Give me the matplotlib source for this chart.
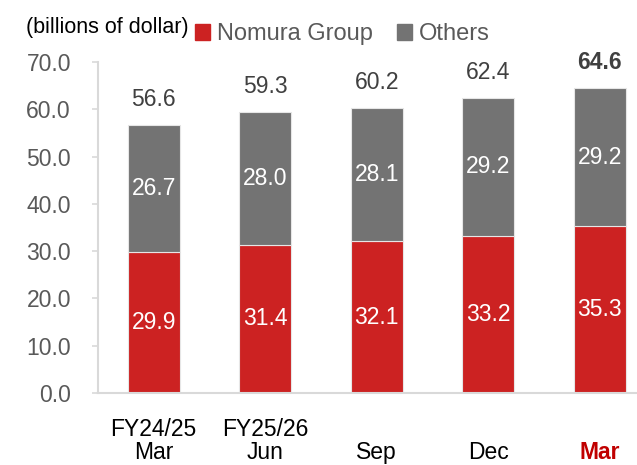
import matplotlib.pyplot as plt
from matplotlib.patches import Patch

plt.rcParams['font.family'] = ['Liberation Sans', 'DejaVu Sans']

# data
periods = ['FY24/25\nMar', 'FY25/26\nJun', '\nSep', '\nDec', '\nMar']
nomura = [29.9, 31.4, 32.1, 33.2, 35.3]
others = [26.7, 28.0, 28.1, 29.2, 29.2]
totals = [56.6, 59.3, 60.2, 62.4, 64.6]
y_ticks = [0, 10, 20, 30, 40, 50, 60, 70]

red = '#CC2222'
gray = '#737373'
axis_gray = '#D9D9D9'
text_gray = '#595959'

fig = plt.figure(figsize=(6.37, 4.65), dpi=100)
ax = fig.add_axes([98 / 637, 1 - 393 / 465, 557.5 / 637, 331 / 465])

x = list(range(len(periods)))
ax.bar(x, nomura, width=0.47, color=red, edgecolor='#E6E6E6', linewidth=0.8)
ax.bar(x, others, width=0.47, bottom=nomura, color=gray, edgecolor='#E6E6E6', linewidth=0.8)

# segment labels
for i in x:
    ax.text(i, nomura[i] / 2, f'{nomura[i]:.1f}', ha='center', va='center',
            color='white', fontsize=16.5)
    ax.text(i, nomura[i] + others[i] / 2, f'{others[i]:.1f}', ha='center', va='center',
            color='white', fontsize=16.5)
    last = i == len(x) - 1
    ax.annotate(f'{totals[i]:.1f}', (i, nomura[i] + others[i]), xytext=(0, 18.5),
                textcoords='offset points', ha='center', va='center',
                fontsize=16.5, color='#404040',
                fontweight='bold' if last else 'normal')

ax.set_xlim(-0.5, 4.5)
ax.set_ylim(0, 70)
ax.set_yticks(y_ticks)
ax.set_yticklabels([f'{v:.1f}' for v in y_ticks])
ax.set_xticks(x)
ax.set_xticklabels(periods)

for s in ['top', 'right']:
    ax.spines[s].set_visible(False)
for s in ['left', 'bottom']:
    ax.spines[s].set_color(axis_gray)
    ax.spines[s].set_linewidth(1.5)

ax.tick_params(axis='y', colors=axis_gray, labelcolor=text_gray, labelsize=16.5,
               length=4.5, width=1.2, pad=15)
ax.tick_params(axis='x', length=0, labelsize=16.5, labelcolor='black', pad=18)
for lbl in ax.get_xticklabels():
    lbl.set_linespacing(1.0)
last_lbl = ax.get_xticklabels()[-1]
last_lbl.set_color('#C00000')
last_lbl.set_fontweight('bold')

fig.text(26 / 637, 1 - 27 / 465, '(billions of dollar)', fontsize=15.5,
         color='black', va='center', ha='left')

handles = [Patch(color=red), Patch(color=gray)]
fig.legend(handles, ['Nomura Group', 'Others'], ncol=2, frameon=False,
           loc='center left', bbox_to_anchor=(195 / 637, 1 - 34 / 465),
           fontsize=17, labelcolor=text_gray, handlelength=0.65, handleheight=0.65,
           handletextpad=0.3, columnspacing=1.0, borderpad=0, borderaxespad=0)

fig.savefig('out.png', dpi=100)
